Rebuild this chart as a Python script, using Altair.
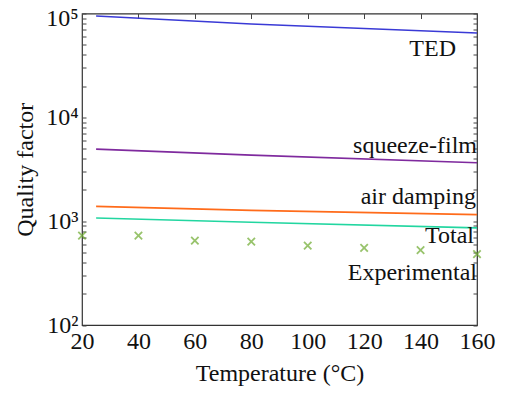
import altair as alt
import pandas as pd

# ---- data ----
temps_model = [25, 80, 160]
ted = [94600, 79300, 64900]
squeeze = [4945, 4325, 3650]
air = [1387, 1270, 1155]
total = [1074, 975, 861]

temps_exp = [20, 40, 60, 80, 100, 120, 140, 160]
exp_q = [726, 726, 650, 636, 582, 553, 526, 482]

series_names = ["TED", "squeeze-film", "air damping", "Total"]
series_colors = ["#3a3ad6", "#7f2a9e", "#ff6b1a", "#22d6a0"]
exp_name = "Experimental"
exp_color = "#6dab2e"

x_ticks = [20, 40, 60, 80, 100, 120, 140, 160]
y_majors = [100, 1000, 10000, 100000]
y_ticks = [m * 10 ** k for k in range(2, 5) for m in range(1, 10)] + [100000]

FONT = "Liberation Serif"
FS = 24

# ---- tables ----
rows = []
for name, vals in zip(series_names, [ted, squeeze, air, total]):
    for t, v in zip(temps_model, vals):
        rows.append({"series": name, "T": t, "Q": v})
lines_df = pd.DataFrame(rows)
exp_df = pd.DataFrame({"T": temps_exp, "Q": exp_q})

xscale = alt.Scale(domain=[20, 160], nice=False, zero=False)
yscale = alt.Scale(type="log", domain=[100, 100000], nice=False)

label_expr = ("indexof([100,1000,10000,100000], datum.value) >= 0 ? "
              "'10' + ['²','³','⁴','⁵'][indexof([100,1000,10000,100000], datum.value)] : ''")

lines = alt.Chart(lines_df).mark_line(strokeWidth=1.6).encode(
    x=alt.X("T:Q", scale=xscale,
            axis=alt.Axis(orient="bottom", values=x_ticks, title="Temperature (°C)",
                          ticks=False, domain=False, grid=False, labelPadding=4,
                          labelFlush=False, titlePadding=8)),
    y=alt.Y("Q:Q", scale=yscale,
            axis=alt.Axis(orient="left", values=y_ticks, labelExpr=label_expr,
                          title="Quality factor", tickSize={"expr": "-4"},
                          labelOffset={"condition": {"test": "datum.value >= 100000", "value": 5},
                                       "value": 0},
                          labelFlush=False,
                          domain=False, grid=False, labelPadding=8, titlePadding=8)),
    color=alt.Color("series:N", scale=alt.Scale(domain=series_names, range=series_colors),
                    legend=None),
    detail="series:N",
)

points = alt.Chart(exp_df).mark_point(
    shape="M-1,-1L1,1M-1,1L1,-1", size=55, filled=False, strokeWidth=1.8, color=exp_color
).encode(
    x=alt.X("T:Q", scale=xscale,
            axis=alt.Axis(orient="top", values=x_ticks, labels=False, title=None,
                          tickSize={"expr": "-5"}, domain=False, grid=False)),
    y=alt.Y("Q:Q", scale=yscale,
            axis=alt.Axis(orient="right", values=y_ticks, labels=False, title=None,
                          tickSize={"expr": "-4"}, domain=False, grid=False)),
)

# labels anchored to the last point of each series
label_offsets = {"TED": (-21, 23), "squeeze-film": (0, -10), "air damping": (-1, -11),
                 "Total": (-3, 15), "Experimental": (0, 26)}
last_rows = [{"series": n, "T": temps_model[-1], "Q": v[-1]}
             for n, v in zip(series_names, [ted, squeeze, air, total])]
last_rows.append({"series": exp_name, "T": temps_exp[-1], "Q": exp_q[-1]})
labels_df = pd.DataFrame(last_rows)

text_layers = []
for name, (dx, dy) in label_offsets.items():
    text_layers.append(
        alt.Chart(labels_df).transform_filter(alt.datum.series == name).mark_text(
            align="right", baseline="alphabetic", dx=dx, dy=dy,
            font=FONT, fontSize=FS, color="#111111"
        ).encode(
            x=alt.X("T:Q", scale=xscale, axis=None),
            y=alt.Y("Q:Q", scale=yscale, axis=None),
            text="series:N",
        )
    )

chart = alt.layer(lines, points, *text_layers).resolve_axis(
    x="independent", y="independent"
).properties(
    width=395, height=311.5,
    autosize=alt.AutoSizeParams(type="none"),
    padding={"left": 74, "top": 5.5, "right": 23, "bottom": 63},
).configure_view(
    stroke="#333333", strokeWidth=1.2
).configure_axis(
    labelFont=FONT, titleFont=FONT, labelFontSize=FS, titleFontSize=FS,
    labelColor="#111111", titleColor="#111111", titleFontWeight="normal",
    tickColor="#444444", tickWidth=1,
)

chart.save("out.html", embed_options={"renderer": "svg", "actions": False})
